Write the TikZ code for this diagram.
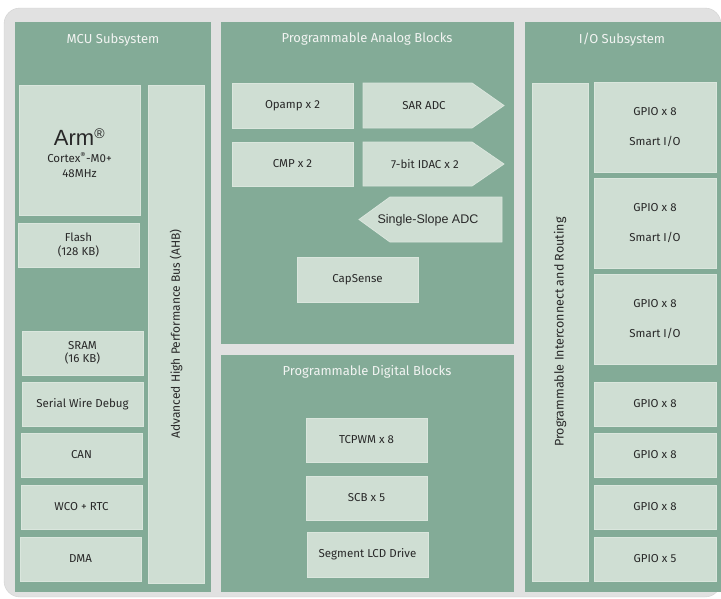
\documentclass[tikz,border=0pt]{standalone}
\usepackage{fontspec}
\setmainfont{Fira Sans}
\newfontfamily\arialfont{Liberation Sans}
\definecolor{PanelGreen}{RGB}{131,171,151}
\definecolor{BoxGreen}{RGB}{207,222,211}
\definecolor{BoxEdge}{RGB}{218,230,221}
\definecolor{BackGray}{RGB}{225,225,225}
\definecolor{BackEdge}{RGB}{208,208,208}
\definecolor{TextDark}{RGB}{40,40,40}
\definecolor{TitleWhite}{RGB}{242,244,242}
\usetikzlibrary{positioning,calc}

\begin{document}
\begin{tikzpicture}[x=1pt,y=-1pt,font=\fontsize{11.5}{13.5}\selectfont,
  panel/.style={fill=PanelGreen,draw=none},
  title/.style={text=TitleWhite,font=\fontsize{13}{15}\selectfont},
  blk/.style={fill=BoxGreen,draw=BoxEdge,line width=0.8pt,inner sep=0pt,text=TextDark},
  lbl/.style={text=TextDark,inner sep=0pt}]
\useasboundingbox (0,0) rectangle (721,598);
\clip (0,0) rectangle (721,598);
% background and panels
\fill[BackGray,draw=BackEdge,rounded corners=16pt] (4,8) rectangle (721,597);
\fill[panel] (15,22) rectangle (211,592);
\fill[panel] (221,22) rectangle (514,344);
\fill[panel] (221,355) rectangle (514,592);
\fill[panel] (525,22) rectangle (722,592);
\node[title] (mcut) at (113,40) {MCU Subsystem};
\node[title] (anat) at (367,39) {Programmable Analog Blocks};
\node[title] (digt) at (367,372) {Programmable Digital Blocks};
\node[title] (iot) at (622,40) {I/O Subsystem};
% MCU subsystem
\node[blk,minimum width=121pt,minimum height=130pt] (cpu) at (79.5,150) {};
\node[lbl,font=\arialfont\fontsize{22}{24}\selectfont] (arm) at (79.5,137) {Arm\textsuperscript{\fontsize{14}{14}\selectfont\textregistered}};
\node[lbl,font=\fontsize{11.5}{15}\selectfont,align=center] (core) at (79.5,165) {Cortex\textsuperscript{\textregistered}-M0+\\48MHz};
\node[blk,minimum width=121pt,minimum height=44pt,align=center] (flash) at (78.5,245) {Flash\\(128 KB)};
\node[blk,minimum width=56pt,minimum height=498pt] (ahb) at (176,334) {};
\node[lbl,rotate=90,font=\fontsize{12}{14}\selectfont] (ahbl) at (176,334) {Advanced High Performance Bus (AHB)};
\node[blk,minimum width=121pt,minimum height=44pt,align=center] (sram) at (82.5,353) {SRAM\\(16 KB)};
\node[blk,minimum width=121pt,minimum height=44pt] (swd) at (82.5,404) {Serial Wire Debug};
\node[blk,minimum width=121pt,minimum height=44pt] (can) at (81.5,455) {CAN};
\node[blk,minimum width=121pt,minimum height=44pt] (wco) at (81.5,507) {WCO + RTC};
\node[blk,minimum width=121pt,minimum height=44pt] (dma) at (80.5,559) {DMA};
% analog blocks
\node[blk,minimum width=121pt,minimum height=45pt] (opamp) at (292.5,105.5) {Opamp x 2};
\node[blk,minimum width=121pt,minimum height=44pt] (cmp) at (292.5,164) {CMP x 2};
\draw[blk] (363,83) -- (472,83) -- (504,105.5) -- (472,128) -- (363,128) -- cycle;
\node[lbl] (sar) at (424,106) {SAR ADC};
\draw[blk] (363,142) -- (472,142) -- (504,164) -- (472,186) -- (363,186) -- cycle;
\node[lbl] (idac) at (425,164) {7-bit IDAC x 2};
\draw[blk] (359,219.5) -- (390,197) -- (502,197) -- (502,242) -- (390,242) -- cycle;
\node[lbl,font=\arialfont\fontsize{12.5}{14}\selectfont] (ssadc) at (428,220) {Single-Slope ADC};
\node[blk,minimum width=121pt,minimum height=45pt] (capsense) at (357.5,279.5) {CapSense};
% digital blocks
\node[blk,minimum width=121pt,minimum height=44pt] (tcpwm) at (366.5,440) {TCPWM x 8};
\node[blk,minimum width=121pt,minimum height=44pt] (scb) at (366.5,498) {SCB x 5};
\node[blk,minimum width=121pt,minimum height=45pt] (lcd) at (367.5,554.5) {Segment LCD Drive};
% I/O subsystem
\node[blk,minimum width=56pt,minimum height=498pt] (pir) at (560,332) {};
\node[lbl,rotate=90,font=\fontsize{12.5}{14}\selectfont] (pirl) at (560,332) {Programmable Interconnect and Routing};
\foreach \y/\n in {127/1,223/2,319/3}{
  \node[blk,minimum width=122pt,minimum height=90pt,align=center] (gpio\n) at (655,\y) {GPIO x 8\\[16.5pt]Smart I/O};
}
\foreach \y/\k/\n in {404/8/4,455/8/5,507/8/6,559/5/7}{
  \node[blk,minimum width=122pt,minimum height=44pt] (gpio\n) at (655,\y) {GPIO x \k};
}
\end{tikzpicture}
\end{document}
